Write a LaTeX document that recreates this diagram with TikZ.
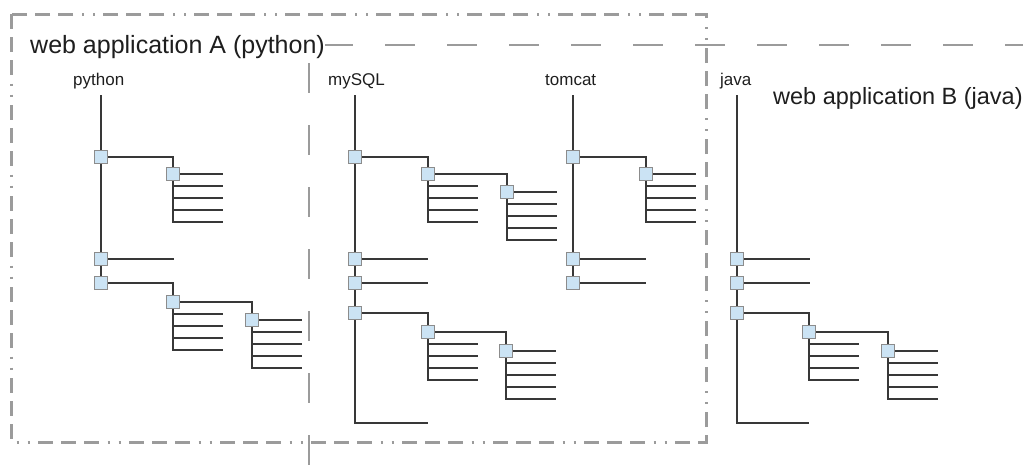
\documentclass[tikz,border=0pt]{standalone}
\usepackage{fontspec}
\setmainfont{Liberation Sans}
\usetikzlibrary{calc,backgrounds}
\definecolor{framegray}{HTML}{9B9B9B}
\definecolor{wiregray}{HTML}{383838}
\definecolor{jointfill}{HTML}{CBE3F4}
\definecolor{jointline}{HTML}{8C8C8C}
\definecolor{inkblack}{HTML}{1E1E1E}
\begin{document}
\begin{tikzpicture}[x=1pt,y=-1pt]
	\tikzset{sq/.style={draw=jointline, fill=jointfill, line width=1.4pt, minimum size=12.5pt, inner sep=0pt},
		wr/.style={draw=wiregray, line width=1.4pt},
		lbl/.style={anchor=base west, inner sep=0pt, text=inkblack, font=\fontsize{17}{20}\selectfont},
		app/.style={anchor=base west, inner sep=0pt, text=inkblack, fill=white}}
	\useasboundingbox (0,0) rectangle (1023,466);
	% application frames
	\draw[framegray, line width=3pt, dash pattern=on 15pt off 8pt on 15pt off 8pt on 15pt off 8.5pt on 2pt off 9pt on 2pt off 8.5pt]
		(11,14) rectangle (706,442);
	\draw[framegray, line width=2.8pt, dash pattern=on 30pt off 32pt, dash phase=48pt] (309,45) -- (1023,45);
	\draw[framegray, line width=2.8pt, dash pattern=on 30pt off 32pt, dash phase=44pt] (309,45) -- (309,466);
	\node[app, font=\fontsize{25}{30}\selectfont] (appA) at (30,53) {web application A (python)};
	\node[app, font=\fontsize{23.5}{28}\selectfont] (appB) at (773,104) {web application B (java)};
	% component names
	\node[lbl] (python) at (73,85)  {python};
	\node[lbl] (mysql)  at (328,85) {mySQL};
	\node[lbl] (tomcat) at (545,85) {tomcat};
	\node[lbl] (java)   at (720,85) {java};
	% joints
	\foreach \n/\x/\y in {p1/101/157, p2/101/259, p3/101/283, p1a/173/174, p3a/173/302, p3b/252/320,
		m1/355/157, m2/355/259, m3/355/283, m4/355/313, m1a/428/174, m1b/507/192, m4a/428/332, m4b/506/351,
		t1/573/157, t2/573/259, t3/573/283, t1a/646/174,
		j1/737/259, j2/737/283, j3/737/313, j3a/809/332, j3b/888/351}
		\node[sq] (\n) at (\x,\y) {};
	% trunk ends
	\foreach \n/\x/\y in {pt/101/95, mt/355/95, mb/428/423, tt/573/95, jt/737/95, jb/809/423}
		\coordinate (\n) at (\x,\y);
	\begin{scope}[on background layer]
		\draw[wr] (pt) -- (p3.center);
		\draw[wr] (mt) |- (mb);
		\draw[wr] (tt) -- (t3.center);
		\draw[wr] (jt) |- (jb);
		\foreach \a/\b in {p1/p1a, p3/p3a, p3a/p3b, m1/m1a, m1a/m1b, m4/m4a, m4a/m4b, t1/t1a, j3/j3a, j3a/j3b}
			\draw[wr] (\a.center) -| (\b.center);
		% long twigs off the trunks
		\foreach \s in {p2, m2, m3, t2, t3, j1, j2} {
			\coordinate (\s-e) at ($(\s)+(73,0)$);
			\draw[wr] (\s.center) -- (\s-e);
		}
		% short twigs, 12 apart
		\foreach \s/\ds in {p1a/{0,12,24,36,48}, p3a/{12,24,36,48}, p3b/{0,12,24,36,48},
			m1a/{12,24,36,48}, m1b/{0,12,24,36,48}, m4a/{12,24,36,48}, m4b/{0,12,24,36,48},
			t1a/{0,12,24,36,48}, j3a/{12,24,36,48}, j3b/{0,12,24,36,48}}
			\foreach \d in \ds {
				\coordinate (\s-\d) at ($(\s)+(50,\d)$);
				\draw[wr] (\s.center) |- (\s-\d);
			}
	\end{scope}
\end{tikzpicture}
\end{document}
